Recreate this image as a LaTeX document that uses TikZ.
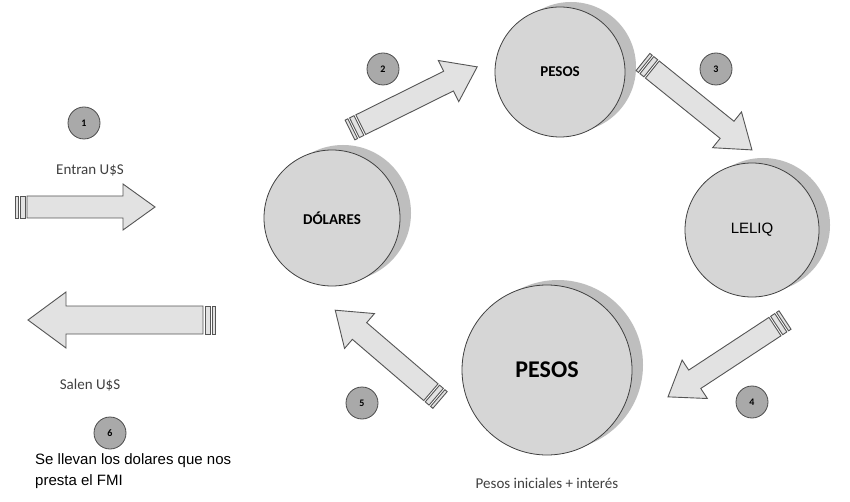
\documentclass[tikz,border=0pt]{standalone}
\usepackage{fontspec}
\setmainfont{Carlito}
\newfontfamily\arial{Liberation Sans}
\definecolor{cfill}{HTML}{D6D6D6}
\definecolor{cshadow}{HTML}{BEBEBE}
\definecolor{afill}{HTML}{E2E2E2}
\definecolor{nfill}{HTML}{A9A9A9}
\definecolor{lcol}{HTML}{555555}
\newcommand\blockarr[6]{%
\begin{scope}[shift={#1},rotate=#2]
\draw[arr] (0,-#4) rectangle (3,#4);
\draw[arr] (5,-#4) rectangle (10,#4);
\draw[arr] (12,-#4) -- ({#3-#6},-#4) -- ({#3-#6},-#5) -- (#3,0) -- ({#3-#6},#5) -- ({#3-#6},#4) -- (12,#4) -- cycle;
\end{scope}}
\begin{document}
\begin{tikzpicture}[x=1pt,y=-1pt,
  arr/.style={draw=lcol,fill=afill,line width=0.9pt,line join=miter},
  big/.style={circle,draw=black!75,fill=cfill,line width=0.8pt,inner sep=0pt,font=\bfseries\fontsize{15}{17}\selectfont},
  num/.style={circle,draw=black!70,fill=nfill,line width=0.8pt,minimum size=32pt,inner sep=0pt,font=\bfseries\fontsize{10}{12}\selectfont},
  lab/.style={text=black!75,font=\fontsize{15}{17}\selectfont}]
\fill[white] (0,0) rectangle (850,502);
\useasboundingbox (0,0) rectangle (850,502);
% shadows
\fill[cshadow] (571,67) circle (65);
\fill[cshadow] (763,225) circle (67);
\fill[cshadow] (343,213) circle (68);
\fill[cshadow] (558,365) circle (85);
\node[big,minimum size=130pt] (p1) at (560,72) {PESOS};
\node[big,minimum size=134pt,font=\arial\fontsize{15}{17}\selectfont] (leliq) at (752,230) {LELIQ};
\node[big,minimum size=136pt] (dol) at (332,218) {DÓLARES};
\node[big,minimum size=170pt,font=\bfseries\fontsize{24}{27}\selectfont] (p2) at (547,370) {PESOS};
\node[num] (n1) at (84,123) {1};
\node[num] (n2) at (383,69) {2};
\node[num] (n3) at (716,69) {3};
\node[num] (n4) at (752,402) {4};
\node[num] (n5) at (362,403) {5};
\node[num] (n6) at (110,433) {6};
\blockarr{(15,207)}{0}{140}{11}{23}{32}
\blockarr{(215,320)}{180}{187}{14}{28}{38}
\blockarr{(350,130)}{26.4}{142}{11}{23}{32}
\blockarr{(643,62)}{-38.9}{140}{11}{23}{32}
\blockarr{(785,320)}{-146.7}{140}{11}{23}{32}
\blockarr{(440,400)}{139.4}{138}{11}{23}{32}
\node[lab] (t1) at (90,170) {Entran U\$S};
\node[lab] (t2) at (90,385) {Salen U\$S};
\node[lab] (t3) at (547,483) {Pesos iniciales + interés};
\node[align=left,anchor=north west,font=\arial\fontsize{15}{21}\selectfont,inner sep=0pt] (t4) at (35,453) {Se llevan los dolares que nos\\presta el FMI};
\end{tikzpicture}
\end{document}
